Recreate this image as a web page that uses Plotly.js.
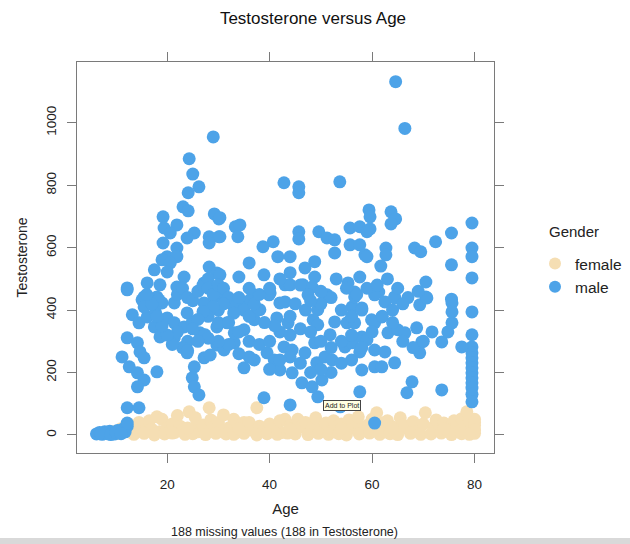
<!DOCTYPE html>
<html>
<head>
<meta charset="utf-8">
<script src="https://cdn.plot.ly/plotly-3.0.1.min.js"></script>
<style>html,body{margin:0;padding:0;background:#fff;}#chart{width:630px;height:544px;}</style>
</head>
<body>
<div id="chart"></div>
<script>
// ---- data ----
var femaleAge = [
  9.5,10.5,11,12,12.5,13,14,14.5,15,16,
  16.5,17,18,18.5,19,20,21,21.5,22,22.5,
  23,24.3,25,25.5,26,27,28,28.5,29,30,
  30.5,31,32,33,33.5,34,35,35.5,36,37,
  38,37.5,39,40,41,42,42.5,43,44,45,
  45.5,46,47,48,48.5,49,50,51,52,52.5,
  53,54,55,55.5,56,57,57.3,58.5,59,60,
  61,62,62.5,63,64,65,65.5,66,67,68,
  69,70,70.4,72,72.5,73,74,75,76,76.5,
  77,77.5,78,79,79.5,80,80,80,80,80,
  13.5,15.5,17.5,19.5,21,23.5,25,27.5,29.5,31.5,
  33,35,37.5,39.5,41.5,43.5,45,47.5,49.5,51.5,
  53.5,55,57.5,59.5,61.5,63.5,65,67.5,69.5,71.5,
  73.5,75.5,77.5,79,24,34,44,54,64,74,
  28.2,60.9,78.5
];
var femaleT = [
  10,5,20,15,35,8,25,40,12,30,
  45,18,58,10,50,22,35,8,62,28,
  15,74,20,55,10,32,18,48,25,40,
  12,64,22,50,8,30,40,18,40,12,
  28,87,15,35,20,45,8,50,30,15,
  50,25,40,10,32,55,18,38,12,45,
  25,35,10,48,22,40,58,15,30,50,
  20,38,10,45,25,15,55,32,20,42,
  12,35,71,25,48,15,38,22,45,30,
  12,52,25,45,10,40,30,5,50,15,
  2,5,0,3,6,2,4,1,5,3,
  2,5,0,4,2,6,3,1,5,2,
  4,0,3,6,2,4,1,5,2,3,
  6,1,4,2,22,20,18,20,22,20,
  87,71,74
];

var maleAge = [
  6.2,6.8,7.3,7.8,8.3,8.8,9.3,9.8,10.3,10.8,
  11.3,11.8,12.2,12.2,12.2,14.5,7.0,9.0,10.0,11.0,
  24.3,25,26.2,24.1,23.1,24.1,19.2,29.2,30.1,21.9,
  19.4,20.6,25.3,23.9,28.2,30.1,19.2,28.2,21.9,20,
  21.9,19,20.6,28.2,17.5,20,29.7,23.3,16.1,18.6,
  21.9,27.2,12.2,29.2,15.5,18,
  64.6,66.4,29,
  42.8,45.7,45.7,53.7,59.4,30.3,33.3,34.2,33.8,30.3,
  45.7,45.7,49.6,51.2,52.7,52.7,55.7,57.6,59,55.7,
  57.6,58.6,40.7,38.7,41.6,44,48.8,46.9,36,30.3,
  34,38.9,43,44,46.5,48.8,48.3,55.3,57.6,56.6,
  51.2,40.1,30.3,36.8,
  59.6,63.7,64.6,63.7,59.6,62.7,62.7,59,61.7,68.3,
  69.5,72.4,75.5,79.5,79.5,79.5,75.5,79.5,70.5,70.5,
  61.3,64.4,75.5,
  12.2,15.1,13.2,14.5,16.1,17.7,19,21.4,20,17.5,
  18.6,21.4,23.3,24.9,23.9,21.4,12.2,14.2,14.7,15.5,
  11.2,12.6,14.2,15.5,14.2,18,23.9,25.3,24.9,25.3,
  26.2,26.4,27.4,27.2,28.4,29.7,31.1,33.1,29.7,31.7,
  33.1,35,37,35,37,38.9,38.1,39.9,41.4,42,
  39.5,40.9,42,42.8,27.2,29.2,31.7,34.2,36.2,37.5,
  30.8,18.4,15.5,
  43,47.5,50.8,49.4,48.5,49.4,52.7,55.1,56.6,56.1,
  58,56.6,60.5,62.5,64.4,59.9,61.9,60.5,63.1,65,
  66.4,68.7,69.3,70.7,69.7,69.3,71.7,73.6,74.8,75.6,
  75.6,75.6,79.5,79.5,79.5,79.5,79.5,79.5,79.5,79.5,
  79.5,79.5,79.5,79.5,79.5,77.5,51.8,54.7,56.1,58,
  59,57.6,58,60.5,62.5,60.5,61.9,64.4,57.6,67.8,
  66.8,73.6,60.5,44,49.4,43.6,44.4,46.9,48.8,49.2,
  50.8,52.2,46.3,48.3,50.2,44.4,53.8,
  22,23,24,25,26,27,28,28,29,30,
  31,32,33,34,35,36,33,30,31,29,
  28,27,26,25,24,23,22,21,20,19,
  18,17,16,30,32,34,36,38,40,42,
  44,46,48,50,52,54,56,50,52,54,
  56,58,45,47,44,41,39,37,38,36,
  40,42,44,46,48,50,53,55,57,59,
  61,63,65,67,69,62,64,66,68,70,
  64,66,60,58,56,54,52,50,48,46,
  44,42,40,36,34,32,30,28,26,24
];
var maleT = [
  3,8,2,10,4,12,6,3,14,7,
  18,10,28,38,87,87,5,1,9,4,
  885,836,795,776,731,718,699,708,692,673,
  663,647,647,631,635,635,615,615,599,571,
  571,561,551,538,529,522,519,506,487,481,
  474,487,471,458,442,442,
  1132,982,955,
  808,795,776,811,721,696,667,673,635,635,
  651,628,651,631,625,583,663,667,651,609,
  609,577,619,603,571,571,555,535,551,513,
  506,513,481,481,481,506,474,487,506,458,
  449,455,455,449,
  699,715,692,676,660,599,577,571,541,599,
  587,619,647,679,599,571,545,503,490,442,
  458,442,435,
  465,433,385,359,378,394,423,423,375,346,
  314,359,346,362,391,311,311,295,266,247,
  250,218,199,176,154,202,263,218,183,154,
  128,327,321,247,256,288,272,295,346,359,
  327,337,369,215,240,119,401,449,375,423,
  263,240,208,282,423,442,433,423,433,401,
  455,433,410,
  426,449,442,401,369,353,362,359,359,410,
  407,442,449,426,439,369,378,359,327,337,
  327,343,417,439,298,263,330,298,330,359,
  423,394,394,321,282,263,247,231,215,199,
  183,167,150,130,106,282,321,282,295,314,
  305,266,208,272,266,218,218,231,138,170,
  135,144,38,96,122,359,272,263,295,231,
  250,240,167,154,176,199,90,
  450,470,440,430,460,480,500,470,450,480,
  470,440,410,440,400,380,390,400,420,410,
  380,395,370,340,300,280,330,290,320,350,
  380,420,450,360,360,330,300,290,300,330,
  320,340,330,300,280,300,320,420,440,400,
  380,400,420,400,380,350,360,420,450,470,
  470,500,520,480,430,460,500,470,450,470,
  480,500,470,440,460,380,360,300,280,300,
  400,420,330,280,240,230,200,210,200,230,
  250,240,210,250,260,290,300,310,300,270
];

var groupNames = ['female', 'male'];
var groupColors = ['#F5DEB3', '#4DA3E8'];
var yTicks = [0, 200, 400, 600, 800, 1000];
var xTicks = [20, 40, 60, 80];

var FONT = 'Liberation Sans, Arial, Helvetica, sans-serif';

var traces = [
  {x: femaleAge, y: femaleT, name: groupNames[0], legendgroup: 'f', type: 'scatter', mode: 'markers',
   marker: {color: groupColors[0], size: 13}, cliponaxis: true},
  {x: maleAge, y: maleT, name: groupNames[1], legendgroup: 'm', type: 'scatter', mode: 'markers',
   marker: {color: groupColors[1], size: 13}, cliponaxis: true}
];

var axisCommon = {
  showgrid: false, zeroline: false, showline: true, linecolor: '#7a7a7a', linewidth: 1,
  mirror: 'ticks', ticks: 'outside', ticklen: 9, tickcolor: '#7a7a7a', tickwidth: 1,
  tickfont: {family: FONT, size: 13.5, color: '#222'}
};

var PW = 417, PH = 391, L = 77, T = 62;
function px2x(p) { return (p - L) / PW; }
function py2y(p) { return (T + PH - p) / PH; }

var layout = {
  width: 630, height: 544,
  margin: {l: 77, r: 136, t: 62, b: 91, autoexpand: false},
  paper_bgcolor: '#ffffff', plot_bgcolor: '#ffffff',
  font: {family: FONT, color: '#222'},
  title: {text: 'Testosterone versus Age', font: {family: FONT, size: 17, color: '#111'},
          x: 313 / 630, xref: 'container', y: 1 - 18/544, yref: 'container', yanchor: 'middle'},
  xaxis: Object.assign({}, axisCommon, {
    range: [2.4, 83.8], tickmode: 'array', tickvals: xTicks, ticklabelstandoff: 10,
    title: {text: 'Age', font: {family: FONT, size: 15, color: '#222'}, standoff: 12}
  }),
  yaxis: Object.assign({}, axisCommon, {
    range: [-58, 1195], tickmode: 'array', tickvals: yTicks, tickangle: -90, ticklabelstandoff: 6,
    title: {text: 'Testosterone', font: {family: FONT, size: 14, color: '#222'}, standoff: 12}
  }),
  showlegend: true,
  legend: {x: px2x(535), xanchor: 'left', y: py2y(247), yanchor: 'top',
           font: {family: FONT, size: 15.5, color: '#222'}, tracegroupgap: 0,
           itemsizing: 'constant', bgcolor: 'rgba(0,0,0,0)'},
  hovermode: false,
  annotations: [
    {text: 'Gender', xref: 'paper', yref: 'paper', x: px2x(547), y: py2y(231),
     xanchor: 'left', yanchor: 'middle', showarrow: false, font: {family: FONT, size: 15, color: '#222'}},
    {text: '188 missing values (188 in Testosterone)', xref: 'paper', yref: 'paper',
     x: px2x(284), y: py2y(532), xanchor: 'center', yanchor: 'middle', showarrow: false,
     font: {family: FONT, size: 12.5, color: '#222'}},
    {text: 'Add to Plot', xref: 'paper', yref: 'paper', x: px2x(342), y: py2y(405),
     xanchor: 'center', yanchor: 'middle', showarrow: false, bgcolor: '#ffffe1',
     bordercolor: '#444', borderwidth: 1, borderpad: 1, font: {family: FONT, size: 7, color: '#222'}}
  ],
  shapes: [
    {type: 'rect', xref: 'paper', yref: 'paper', x0: px2x(0), x1: px2x(630),
     y0: py2y(538), y1: py2y(544), fillcolor: '#d9d9d9', line: {width: 0}, layer: 'below'}
  ]
};

Plotly.newPlot('chart', traces, layout, {displayModeBar: false, staticPlot: true});
</script>
</body>
</html>
